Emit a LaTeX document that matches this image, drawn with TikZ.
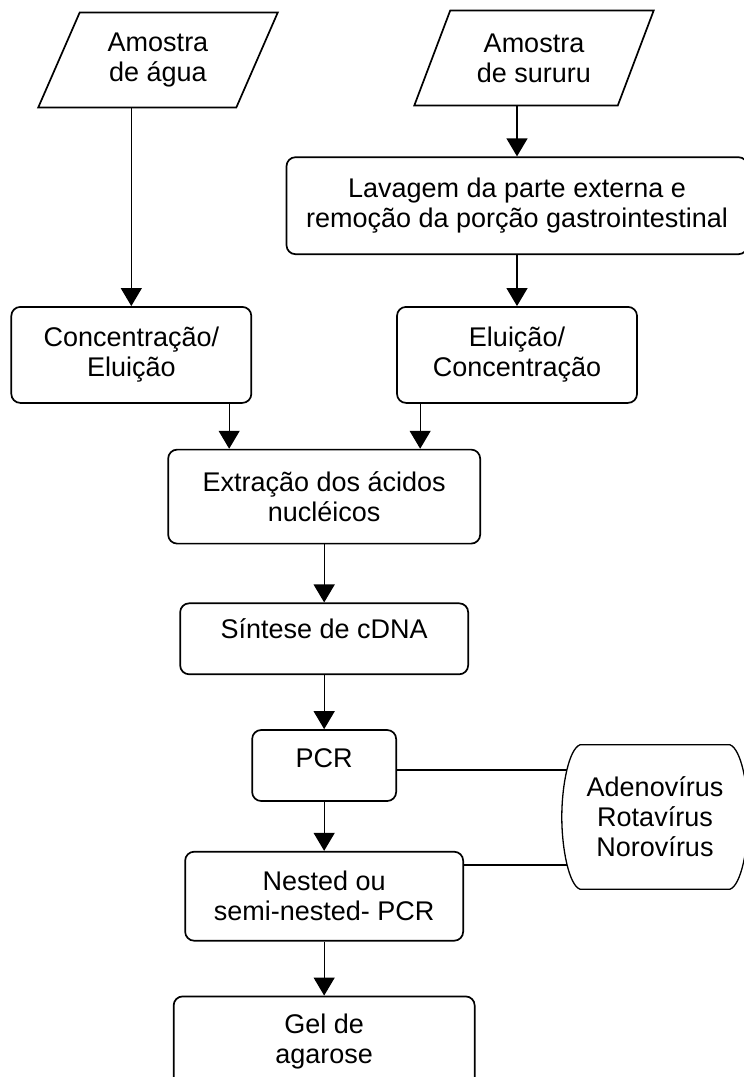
\documentclass[tikz,border=0pt]{standalone}
\usepackage{fontspec}
\setmainfont{Liberation Sans}
\usepackage{tikz}
\usetikzlibrary{shapes.geometric, arrows.meta, positioning, calc}

\begin{document}
\begin{tikzpicture}[
    x=1pt, y=-1pt,
    process/.style={draw, line width=1.7pt, rounded corners=9pt, font=\fontsize{27}{30}\selectfont, align=center},
    sample/.style={draw, line width=1.7pt, trapezium, trapezium left angle=65, trapezium right angle=115, trapezium stretches=true, minimum width=240pt, minimum height=95pt, font=\fontsize{27}{30}\selectfont, align=center},
    target/.style={minimum width=186pt, minimum height=144pt, font=\fontsize{27}{30}\selectfont, align=center},
    arrow/.style={-{Triangle[width=21pt,length=18pt]}, line width=1.3pt},
    link/.style={line width=1.3pt}
]
    \useasboundingbox (0,0) rectangle (744,1077);

    % Nodes - samples
    \node[sample] (agua) at (158,60) {Amostra\\de água};
    \node[sample] (sururu) at (534,58) {Amostra\\de sururu};

    % Nodes - preparation
    \node[process, minimum width=461pt, minimum height=97pt, below=50pt of sururu, xshift=-17pt] (lavagem) {Lavagem da parte externa e\\remoção da porção gastrointestinal};
    \node[process, minimum width=240pt, minimum height=96pt, below=51pt of lavagem] (eluicao) {Eluição/\\Concentração};
    \node[process, minimum width=240pt, minimum height=96pt, left=144pt of eluicao] (concentracao) {Concentração/\\Eluição};

    % Nodes - middle column
    \coordinate (meio) at ($(concentracao.south)!0.5!(eluicao.south)$);
    \node[process, minimum width=312pt, minimum height=94pt, below=45pt of meio] (extracao) {Extração dos ácidos\\nucléicos};
    \node[process, minimum width=288pt, minimum height=71pt, text depth=20pt, below=58pt of extracao] (sintese) {Síntese de cDNA};
    \node[process, minimum width=144pt, minimum height=71pt, text depth=14pt, below=54pt of sintese] (pcr) {PCR};
    \node[process, minimum width=278pt, minimum height=89pt, below=49pt of pcr] (nested) {Nested ou\\semi-nested- PCR};
    \node[process, minimum width=301pt, minimum height=90pt, below=54pt of nested] (gel) {Gel de\\agarose};

    % Node - viruses
    \node[target] (virus) at (655,817) {Adenovírus\\Rotavírus\\Norovírus};
    \draw[link] ([xshift=-75pt]virus.north) -- ([xshift=75pt]virus.north)
        .. controls +(11pt,-4pt) and +(0pt,32pt) .. (virus.east)
        .. controls +(0pt,-32pt) and +(11pt,4pt) .. ([xshift=75pt]virus.south)
        -- ([xshift=-75pt]virus.south)
        .. controls +(-11pt,4pt) and +(0pt,-32pt) .. (virus.west)
        .. controls +(0pt,32pt) and +(-11pt,-4pt) .. ([xshift=-75pt]virus.north) -- cycle;

    % Arrows
    \coordinate (saida1) at ([xshift=-23pt]concentracao.south east);
    \coordinate (saida2) at ([xshift=24pt]eluicao.south west);
    \draw[arrow] (concentracao.north |- agua.south) -- (concentracao.north);
    \draw[arrow] (lavagem.north |- sururu.south) -- (lavagem.north);
    \draw[arrow] (eluicao.north |- lavagem.south) -- (eluicao.north);
    \draw[arrow] (saida1) -- (saida1 |- extracao.north);
    \draw[arrow] (saida2) -- (saida2 |- extracao.north);
    \draw[arrow] (extracao.south) -- (extracao.south |- sintese.north);
    \draw[arrow] (sintese.south) -- (pcr.north);
    \draw[arrow] (pcr.south) -- (nested.north);
    \draw[arrow] (nested.south) -- (gel.north);

    % Links to viruses
    \coordinate (vtop) at ([xshift=5pt,yshift=47pt]virus.west);
    \coordinate (vbot) at ([xshift=5pt,yshift=-48pt]virus.west);
    \draw[link] (pcr.east |- vtop) -- (vtop);
    \draw[link] (nested.east |- vbot) -- (vbot);
\end{tikzpicture}
\end{document}
